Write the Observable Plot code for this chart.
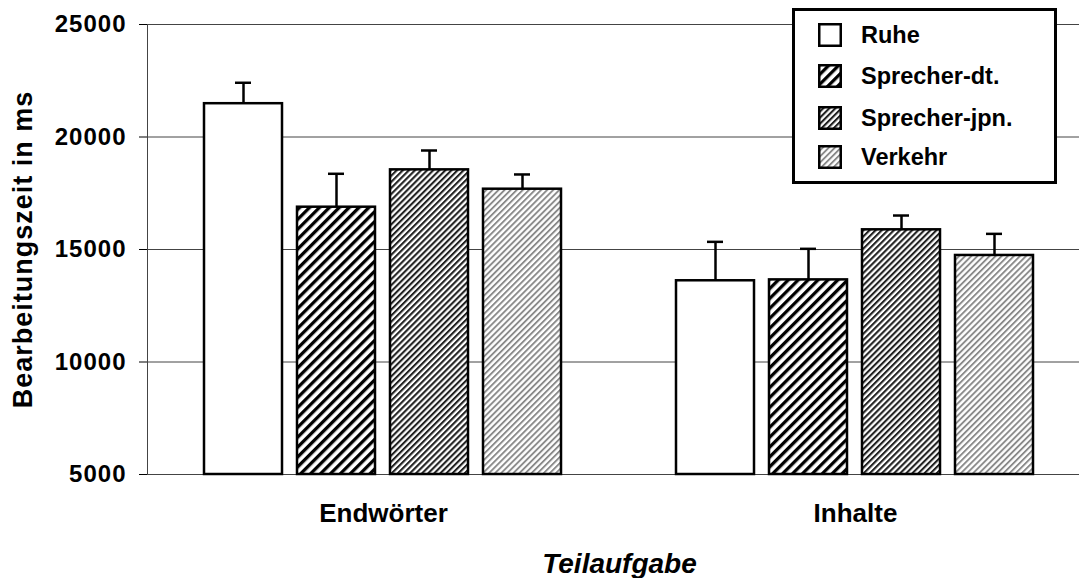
<!DOCTYPE html>
<html><head><meta charset="utf-8">
<script src="https://cdn.jsdelivr.net/npm/d3@7"></script>
<script src="https://cdn.jsdelivr.net/npm/@observablehq/plot@0.6"></script>
<style>
body{margin:0;background:#fff;}
#wrap{position:relative;width:1079px;height:578px;font-family:"Liberation Sans",Arial,sans-serif;}
#legend{position:absolute;left:792px;top:8px;width:259px;height:170px;border:3px solid #000;background:#fff;box-sizing:content-box;}
.row{position:absolute;left:23px;display:flex;align-items:center;height:24px;font-weight:bold;font-size:23.5px;color:#000;white-space:nowrap;}
.row svg{margin-right:19px;display:block;}
g[aria-label="y-axis tick label"] text{letter-spacing:1px;}
g[aria-label="y-axis label"] text{font-size:27px;font-weight:bold;letter-spacing:1px;}
g[aria-label="fx-axis label"] text{font-size:28px;font-weight:bold;font-style:italic;}
</style></head><body><div id="wrap"></div>
<script>
const groups = ["Endwörter", "Inhalte"];
const series = ["Ruhe", "Sprecher-dt.", "Sprecher-jpn.", "Verkehr"];
const endwoerterMeans = [21480, 16880, 18540, 17680];
const endwoerterUpper = [22410, 18365, 19400, 18335];
const inhalteMeans = [13610, 13650, 15875, 14735];
const inhalteUpper = [15340, 15030, 16510, 15695];
const yTicks = [5000, 10000, 15000, 20000, 25000];
const yMin = 5000, yMax = 25000;
const fills = ["white", "url(#pat-dt)", "url(#pat-jpn)", "url(#pat-verkehr)"];

const table = [];
series.forEach((s, i) => {
  table.push({group: groups[0], series: s, mean: endwoerterMeans[i], upper: endwoerterUpper[i]});
  table.push({group: groups[1], series: s, mean: inhalteMeans[i], upper: inhalteUpper[i]});
});

const NS = "http://www.w3.org/2000/svg";
function el(name, attrs) {
  const e = document.createElementNS(NS, name);
  for (const k in attrs) e.setAttribute(k, attrs[k]);
  return e;
}
function makeDefs() {
  const defs = el("defs", {});
  const specs = [
    {id: "pat-dt", size: 7, stripe: 3.3, color: "#000"},
    {id: "pat-jpn", size: 4.3, stripe: 2.1, color: "#222"},
    {id: "pat-verkehr", size: 4.3, stripe: 1.9, color: "#8a8a8a"}
  ];
  for (const s of specs) {
    const p = el("pattern", {id: s.id, patternUnits: "userSpaceOnUse", width: s.size, height: s.size, patternTransform: "rotate(45)"});
    p.appendChild(el("rect", {x: 0, y: 0, width: s.size, height: s.size, fill: "white"}));
    p.appendChild(el("rect", {x: 0, y: 0, width: s.stripe, height: s.size, fill: s.color}));
    defs.appendChild(p);
  }
  return defs;
}

const plot = Plot.plot({
  width: 1079, height: 578,
  marginLeft: 147, marginRight: -12, marginTop: 24, marginBottom: 104,
  style: {fontFamily: "'Liberation Sans', Arial, sans-serif", overflow: "hidden", background: "white", color: "black"},
  fx: {domain: groups, paddingInner: 0, paddingOuter: 0, label: "Teilaufgabe"},
  x: {domain: series, paddingInner: 0.161, paddingOuter: 0.618, axis: null},
  y: {domain: [yMin, yMax], axis: null},
  color: {domain: series, range: fills},
  marks: [
    Plot.ruleY(yTicks, {stroke: "#444", strokeWidth: 1}),
    Plot.frame({facet: "super", stroke: "#444", strokeWidth: 1}),
    Plot.barY(table, {fx: "group", x: "series", y1: yMin, y2: "mean", fill: "series", stroke: "black", strokeWidth: 2.5}),
    Plot.ruleX(table, {fx: "group", x: "series", y1: "mean", y2: "upper", stroke: "black", strokeWidth: 2.5}),
    Plot.tickY(table, {fx: "group", x: "series", y: "upper", insetLeft: 31, insetRight: 31, stroke: "black", strokeWidth: 2.5}),
    Plot.axisY({ticks: yTicks, tickSize: 8, tickPadding: 13, fontSize: 24, fontWeight: "bold", tickFormat: d => String(d),
      label: "Bearbeitungszeit in ms", labelAnchor: "center", labelOffset: 135, labelArrow: "none"}),
    Plot.axisFx({anchor: "bottom", tickSize: 0, tickPadding: 29, fontSize: 26, fontWeight: "bold",
      label: "Teilaufgabe", labelAnchor: "center", labelOffset: 98})
  ]
});
plot.insertBefore(makeDefs(), plot.firstChild);

const wrap = document.getElementById("wrap");
wrap.appendChild(plot);

const legend = document.createElement("div");
legend.id = "legend";
const rowCenters = [24, 65, 107, 146];
series.forEach((s, i) => {
  const row = document.createElement("div");
  row.className = "row";
  row.style.top = (rowCenters[i] - 12) + "px";
  const sw = el("svg", {width: 24, height: 24});
  sw.appendChild(el("rect", {x: 1.25, y: 1.25, width: 21.5, height: 21.5, fill: fills[i], stroke: "black", "stroke-width": 2.5}));
  row.appendChild(sw);
  const t = document.createElement("span");
  t.textContent = s;
  row.appendChild(t);
  legend.appendChild(row);
});
wrap.appendChild(legend);
</script>
</body></html>
